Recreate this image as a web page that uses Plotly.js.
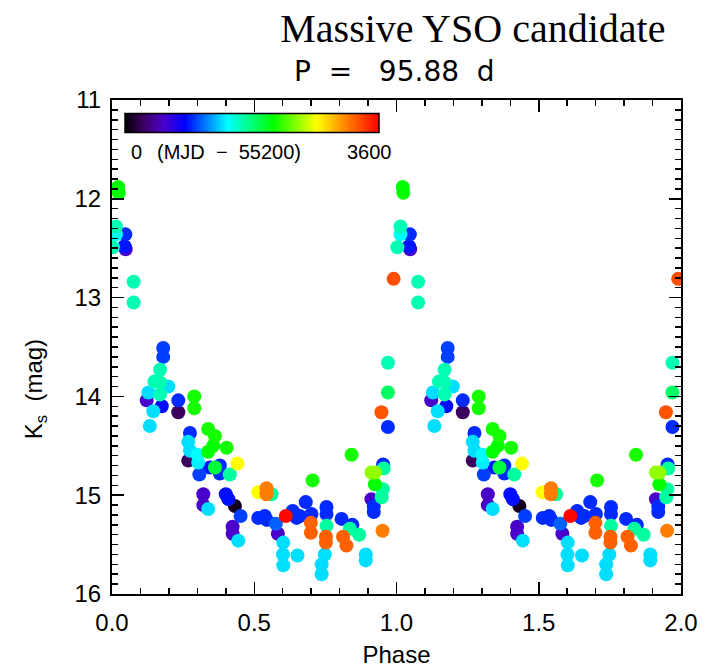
<!DOCTYPE html>
<html>
<head>
<meta charset="utf-8">
<script src="https://cdn.plot.ly/plotly-3.0.1.min.js"></script>
<style>html,body{margin:0;padding:0;background:#fff;}</style>
</head>
<body>
<div id="chart" style="width:723px;height:668px;"></div>
<script>
// Phase-folded light curve (one cycle)
const phase = [0.022,0.024,0.014,0.014,0.003,0.047,0.044,0.048,0.990,0.076,0.076,0.970,0.970,0.947,0.970,
  0.180,0.180,0.169,0.149,0.198,0.169,0.128,0.169,0.122,0.175,0.145,0.133,0.233,0.233,0.289,0.289,
  0.274,0.268,0.274,0.301,0.338,0.362,0.356,0.403,0.338,0.441,0.268,0.303,0.307,0.362,0.344,0.379,
  0.379,0.414,0.321,0.321,0.338,0.400,0.409,0.432,0.452,0.424,0.424,0.444,0.514,0.543,0.543,0.561,
  0.514,0.537,0.544,0.576,0.611,0.635,0.649,0.583,0.602,0.601,0.602,0.652,0.705,0.681,0.660,0.701,
  0.699,0.699,0.842,0.953,0.955,0.912,0.924,0.924,0.952,0.948,0.912,0.920,0.920,0.951,0.754,0.754,
  0.807,0.845,0.754,0.752,0.752,0.812,0.824,0.836,0.869,0.748,0.737,0.737,0.892,0.892];
const kmag = [11.88,11.94,12.28,12.36,12.49,12.36,12.48,12.51,12.81,12.84,13.05,13.66,13.96,14.16,14.31,
  13.51,13.60,13.73,13.85,13.90,13.86,13.96,13.98,14.04,14.10,14.15,14.30,14.04,14.16,14.00,14.12,
  14.37,14.46,14.55,14.59,14.33,14.40,14.50,14.52,14.56,14.68,14.65,14.67,14.79,14.72,14.72,14.70,
  14.78,14.79,14.99,15.10,15.14,14.99,15.04,15.11,15.21,15.32,15.39,15.46,14.97,14.93,14.99,14.99,
  15.23,15.21,15.25,15.29,15.21,15.16,15.23,15.39,15.48,15.60,15.71,15.61,14.85,15.07,15.21,15.19,
  15.28,15.38,14.59,14.69,14.73,14.77,14.77,14.89,14.94,15.02,15.04,15.11,15.17,15.36,15.12,15.19,
  15.24,15.30,15.31,15.42,15.48,15.42,15.51,15.34,15.40,15.60,15.70,15.80,15.60,15.66];
// MJD - 55200 for each observation (colour)
const mjd = [2100,2100,1650,1480,1650,950,900,550,3320,1650,1650,1650,1850,3300,950,
  1000,1000,1650,1650,1380,1650,1380,1650,550,870,1380,1380,950,250,2150,2150,
  950,1380,1380,1450,2150,2150,2100,2150,2100,2720,250,1420,1000,1950,900,950,
  950,1700,550,550,1380,880,880,80,1000,550,550,1380,2720,3150,3150,1700,
  950,950,950,1080,3580,950,950,550,1380,1380,1380,1380,2150,950,950,950,
  3250,3250,2150,950,1700,2450,2450,2100,1700,1700,550,950,950,3150,950,950,
  950,950,1700,3250,3250,3250,3250,1700,1700,1380,1380,1380,1380,1380];
const xTickVals = [0, 0.5, 1, 1.5, 2];
const xTickText = ['0.0', '0.5', '1.0', '1.5', '2.0'];
const yTickVals = [11, 12, 13, 14, 15, 16];
const cMin = 0, cMax = 3600;

// order by time so that later points lie on top
const idx = phase.map((_, i) => i).sort((a, b) => mjd[a] - mjd[b]);
const xs = [], ys = [], cs = [];
for (const cycle of [0, 1]) {
  for (const i of idx) { xs.push(phase[i] + cycle); ys.push(kmag[i]); cs.push(mjd[i]); }
}

const rainbow = [
  [0.00, 'rgb(0,0,0)'],
  [0.07, 'rgb(60,0,95)'],
  [0.15, 'rgb(75,0,200)'],
  [0.236, 'rgb(0,0,255)'],
  [0.405, 'rgb(0,255,255)'],
  [0.583, 'rgb(0,255,0)'],
  [0.755, 'rgb(255,255,0)'],
  [0.88, 'rgb(255,120,0)'],
  [1.00, 'rgb(255,0,0)']
];

const sans = 'Liberation Sans, Arial, sans-serif';
const nb = '\u00a0';
const trace = {
  type: 'scatter', mode: 'markers', x: xs, y: ys,
  marker: {
    size: 14, color: cs, cmin: cMin, cmax: cMax, colorscale: rainbow,
    line: {width: 0},
    showscale: true,
    colorbar: {
      orientation: 'h', x: 0.0228, xanchor: 'left', y: 0.931, yanchor: 'bottom',
      len: 0.446, lenmode: 'fraction', thickness: 19, thicknessmode: 'pixels',
      outlinewidth: 1.5, outlinecolor: '#000', borderwidth: 0, xpad: 0, ypad: 0,
      showticklabels: false, ticks: ''
    }
  },
  hoverinfo: 'skip', showlegend: false, cliponaxis: true
};

const axisCommon = {
  showline: true, linewidth: 2, linecolor: '#000', mirror: 'ticks',
  ticks: 'inside', ticklen: 12, tickwidth: 1.5, tickcolor: '#000',
  showgrid: false, zeroline: false,
  tickfont: {family: sans, size: 24, color: '#000'}
};

const layout = {
  width: 723, height: 668,
  margin: {l: 112, r: 42, t: 100, b: 74},
  paper_bgcolor: '#fff', plot_bgcolor: '#fff',
  title: {text: 'Massive YSO candidate', font: {family: 'Liberation Serif, Times New Roman, serif', size: 40, color: '#000'},
          x: 0.654, xanchor: 'center', y: 0.958, yanchor: 'middle', xref: 'container', yref: 'container'},
  xaxis: Object.assign({}, axisCommon, {
    range: [0, 2], tickvals: xTickVals, ticktext: xTickText,
    minor: {ticks: 'inside', ticklen: 6, tickwidth: 1.5, tickcolor: '#000', dtick: 0.1, showgrid: false},
    ticklabelstandoff: 6,
    title: {text: 'Phase', font: {family: sans, size: 24, color: '#000'}, standoff: 16}
  }),
  yaxis: Object.assign({}, axisCommon, {
    range: [16, 11], tickvals: yTickVals,
    minor: {ticks: 'inside', ticklen: 6, tickwidth: 1.5, tickcolor: '#000', dtick: 0.1, showgrid: false},
    ticklabelstandoff: 4
  }),
  annotations: [
    {text: 'P' + nb + nb + '=' + nb + nb + nb + '95.88' + nb + nb + 'd', xref: 'paper', yref: 'paper', x: 0.497, y: 1.057,
     xanchor: 'center', yanchor: 'middle',
     showarrow: false, font: {family: 'DejaVu Sans, sans-serif', size: 28, color: '#000'}},
    {text: 'K<sub>s</sub>' + nb + nb + '(mag)', xref: 'paper', yref: 'paper', x: -0.133, y: 0.415, xanchor: 'center', yanchor: 'middle',
     textangle: -90, showarrow: false, font: {family: sans, size: 24, color: '#000'}},
    {text: '0', xref: 'paper', yref: 'paper', x: 0.030, y: 0.895, xanchor: 'left', yanchor: 'middle',
     showarrow: false, font: {family: sans, size: 20, color: '#000'}},
    {text: '(MJD' + nb + nb + '\u2212' + nb + nb + '55200)', xref: 'paper', yref: 'paper', x: 0.076, y: 0.895, xanchor: 'left', yanchor: 'middle',
     showarrow: false, font: {family: sans, size: 20, color: '#000'}},
    {text: '3600', xref: 'paper', yref: 'paper', x: 0.495, y: 0.895, xanchor: 'right', yanchor: 'middle',
     showarrow: false, font: {family: sans, size: 20, color: '#000'}}
  ]
};

Plotly.newPlot('chart', [trace], layout, {staticPlot: true, displayModeBar: false});
</script>
</body>
</html>
